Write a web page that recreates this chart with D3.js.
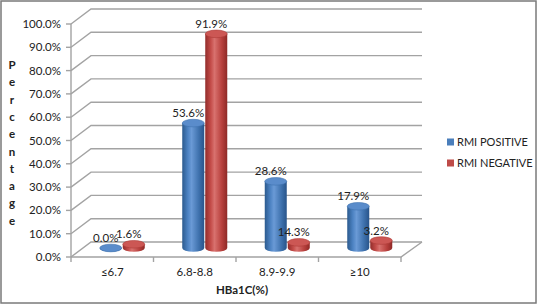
<!DOCTYPE html>
<html>
<head>
<meta charset="utf-8">
<script src="https://cdn.jsdelivr.net/npm/d3@7"></script>
<style>
  body { margin: 0; background: #fff; }
  text { font-family: Lato, "Open Sans", sans-serif; fill: #222; }
</style>
</head>
<body>
<svg id="chart" width="538" height="306"></svg>
<script>
// data
const categories = ["≤6.7", "6.8-8.8", "8.9-9.9", "≥10"];
const series = ["RMI POSITIVE", "RMI NEGATIVE"];
const positive = [0.0, 53.6, 28.6, 17.9];
const negative = [1.6, 91.9, 14.3, 3.2];
// the negative bar for 8.9-9.9 is drawn much lower than its label in the source
const negativeDrawn = [1.6, 91.9, 2.4, 3.2];
const yTicks = [0, 10, 20, 30, 40, 50, 60, 70, 80, 90, 100];
const axisTitle = "Percentage";
const xTitle = "HBa1C(%)";

const svg = d3.select("#chart");
const plotLeft = 71, plotRight = 401, plotTop = 24, plotBottom = 257;
const depthX = 20, depthY = -15; // back wall offset
const barShiftX = 10, barShiftY = -9; // bars sit at mid depth

// outer frame
svg.append("rect")
  .attr("x", 1).attr("y", 1).attr("width", 535).attr("height", 302)
  .attr("fill", "none").attr("stroke", "#7a7a7a").attr("stroke-width", 1.5);

const x0 = d3.scaleBand().domain(categories).range([plotLeft, plotRight]);
const x1 = d3.scaleBand().domain(series).range([-23, 23]);
const y = d3.scaleLinear().domain([0, 100]).range([plotBottom, plotTop]);
const color = d3.scaleOrdinal().domain(series).range(["#4a7ebb", "#be4b48"]);

// gradients for the cylinders
const defs = svg.append("defs");
const grads = {
  "RMI POSITIVE": ["#2b5a8e", "#4c82c2", "#6a9ad6", "#3f72ae", "#28548a"],
  "RMI NEGATIVE": ["#922c2a", "#c44c49", "#d8716e", "#b8403d", "#8e2926"]
};
series.forEach((s, i) => {
  const g = defs.append("linearGradient").attr("id", "grad" + i)
    .attr("x1", 0).attr("x2", 1).attr("y1", 0).attr("y2", 0);
  [0, 0.25, 0.42, 0.75, 1].forEach((o, j) =>
    g.append("stop").attr("offset", o).attr("stop-color", grads[s][j]));
});

// walls and grid
const grid = svg.append("g").attr("fill", "none").attr("stroke", "#a3a3a3").attr("stroke-width", 1.4);
yTicks.forEach(t => {
  const yy = y(t);
  grid.append("polyline")
    .attr("points", `${plotLeft},${yy} ${plotLeft + depthX},${yy + depthY} ${plotRight + depthX + 1},${yy + depthY}`);
});
// floor
grid.append("polyline")
  .attr("points", `${plotLeft},${plotBottom} ${plotRight},${plotBottom} ${plotRight + depthX + 1},${plotBottom + depthY}`);
// vertical axis line
grid.append("line").attr("x1", plotLeft).attr("x2", plotLeft).attr("y1", plotTop).attr("y2", plotBottom);
// y ticks
yTicks.forEach(t => {
  grid.append("line").attr("x1", plotLeft - 5).attr("x2", plotLeft).attr("y1", y(t)).attr("y2", y(t));
});
// x ticks
[plotLeft, ...categories.map(c => x0(c) + x0.bandwidth())].forEach(xx => {
  grid.append("line").attr("x1", xx).attr("x2", xx).attr("y1", plotBottom).attr("y2", plotBottom + 5);
});

// y tick labels
svg.append("g").selectAll("text").data(yTicks).join("text")
  .attr("x", 61).attr("y", d => y(d)).attr("dy", "0.35em")
  .attr("text-anchor", "end").attr("font-size", 11.5)
  .text(d => d3.format(".1f")(d) + "%");

// vertical y title, one letter per line
svg.append("g").selectAll("text").data(axisTitle.split("")).join("text")
  .attr("x", 12).attr("y", (d, i) => 65 + i * 17.3).attr("dy", "0.35em")
  .attr("text-anchor", "middle").attr("font-size", 11.5).attr("font-weight", "bold")
  .text(d => d);

// x labels
svg.append("g").selectAll("text").data(categories).join("text")
  .attr("x", d => x0(d) + x0.bandwidth() / 2).attr("y", 276)
  .attr("text-anchor", "middle").attr("font-size", 11.5)
  .text(d => d);
svg.append("text").attr("x", 242).attr("y", 294)
  .attr("text-anchor", "middle").attr("font-size", 11.5).attr("font-weight", "bold")
  .text(xTitle);

// cylinders
const rows = categories.map((c, i) => ({
  cat: c,
  bars: [
    { key: series[0], value: positive[i], drawn: positive[i] },
    { key: series[1], value: negative[i], drawn: negativeDrawn[i] }
  ]
}));

const bw = x1.bandwidth() - 1, rx = bw / 2, ry = 3.8;
const groups = svg.append("g").selectAll("g").data(rows).join("g")
  .attr("transform", d => `translate(${x0(d.cat) + x0.bandwidth() / 2 + barShiftX},${barShiftY})`);

groups.each(function (row) {
  const g = d3.select(this);
  row.bars.forEach(b => {
    const cx = x1(b.key) + x1.bandwidth() / 2;
    const y0 = y(0), yt = y(b.drawn);
    const si = series.indexOf(b.key);
    g.append("path")
      .attr("d", `M${cx - rx},${yt} L${cx - rx},${y0} A${rx},${ry} 0 0 0 ${cx + rx},${y0} L${cx + rx},${yt} Z`)
      .attr("fill", `url(#grad${si})`);
    g.append("ellipse")
      .attr("cx", cx).attr("cy", yt).attr("rx", rx).attr("ry", ry)
      .attr("fill", si === 0 ? "#5a8ccb" : "#cc5754")
      .attr("stroke", si === 0 ? "#3f72ae" : "#ad3b38").attr("stroke-width", 0.6);
  });
});

// value labels
groups.each(function (row) {
  const g = d3.select(this);
  row.bars.forEach(b => {
    const cx = x1(b.key) + x1.bandwidth() / 2 - 5;
    g.append("text")
      .attr("x", cx).attr("y", y(b.drawn) - 6)
      .attr("text-anchor", "middle").attr("font-size", 11.5)
      .text(d3.format(".1f")(b.value) + "%");
  });
});

// legend
const legend = svg.append("g").selectAll("g").data(series).join("g")
  .attr("transform", (d, i) => `translate(447,${142 + i * 21})`);
legend.append("rect").attr("x", 0).attr("y", -3.5).attr("width", 7).attr("height", 7)
  .attr("fill", d => color(d));
legend.append("text").attr("x", 10).attr("dy", "0.35em").attr("font-size", 11)
  .text(d => d);
</script>
</body>
</html>
